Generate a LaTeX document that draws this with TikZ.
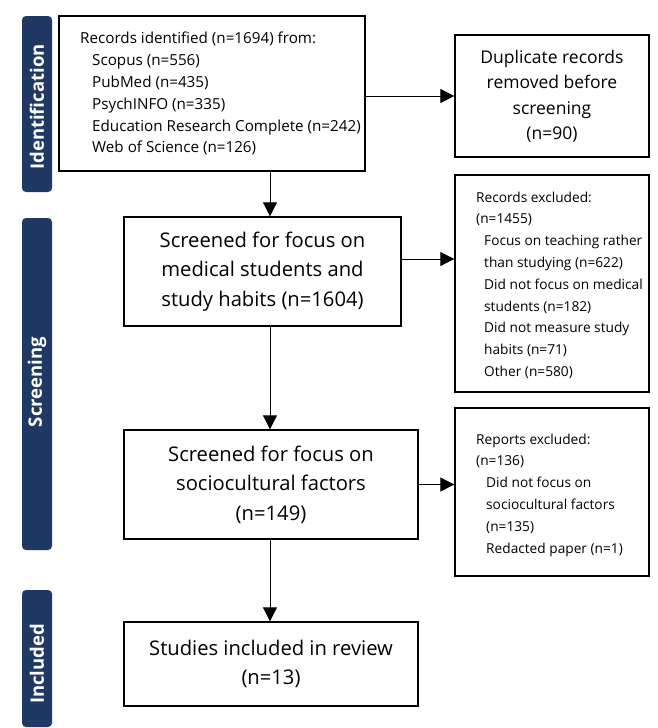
\documentclass[tikz,border=0pt]{standalone}
\usepackage{fontspec}
\setmainfont{Open Sans}
\usetikzlibrary{arrows.meta,calc}
\definecolor{navy}{HTML}{203864}
\tikzset{
  bar/.style={fill=navy,draw=none,rounded corners=4pt},
  barlabel/.style={text=white,font=\fontsize{18.5}{22}\selectfont\bfseries,rotate=90},
  box/.style={draw=black,line width=1.4pt,inner sep=0pt,align=center},
  bigtext/.style={font=\fontsize{20.2}{29.5}\selectfont},
  midtext/.style={font=\fontsize{17.5}{25.5}\selectfont},
  smalltext/.style={font=\fontsize{15.2}{21.8}\selectfont,align=left,inner sep=0pt,anchor=north west},
  exctext/.style={smalltext,font=\fontsize{13.7}{21.8}\selectfont},
  arr/.style={line width=1pt,-{Triangle[length=14pt,width=14pt]}}
}
\begin{document}
\begin{tikzpicture}[x=1pt,y=-1pt]
\useasboundingbox (0,0) rectangle (657,728);
% phase bars
\draw[bar] (22,16) rectangle (52,192);
\node[barlabel] (lid) at (37,107) {Identification};
\draw[bar] (22,218) rectangle (52,550);
\node[barlabel] (lsc) at (37,382) {Screening};
\draw[bar] (22,590) rectangle (52,727);
\node[barlabel] (lin) at (37,664) {Included};
% boxes
\node[box,minimum width=306pt,minimum height=155pt] (rec) at (212,93.5) {};
\node[smalltext] (rect) at (80,32) {Records identified (n=1694) from:\\
\hspace*{12pt}Scopus (n=556)\\
\hspace*{12pt}PubMed (n=435)\\
\hspace*{12pt}PsychINFO (n=335)\\
\hspace*{12pt}Education Research Complete (n=242)\\
\hspace*{12pt}Web of Science (n=126)};
\node[box,midtext,minimum width=194pt,minimum height=122pt] (dup) at (552,96) {Duplicate records\\removed before\\screening\\(n=90)};
\node[box,bigtext,minimum width=277pt,minimum height=109pt] (s1) at (262.5,271.5) {Screened for focus on\\medical students and\\study habits (n=1604)};
\node[box,minimum width=194pt,minimum height=217pt] (rex) at (552,283.5) {};
\node[exctext] (rext) at (476,191.5) {Records excluded:\\
(n=1455)\\
\hspace*{8pt}Focus on teaching rather\\
\hspace*{8pt}than studying (n=622)\\
\hspace*{8pt}Did not focus on medical\\
\hspace*{8pt}students (n=182)\\
\hspace*{8pt}Did not measure study\\
\hspace*{8pt}habits (n=71)\\
\hspace*{8pt}Other (n=580)};
\node[box,bigtext,minimum width=294pt,minimum height=109pt] (s2) at (271,484.5) {Screened for focus on\\sociocultural factors\\(n=149)};
\node[box,minimum width=194pt,minimum height=168pt] (rep) at (552,492) {};
\node[exctext] (rept) at (476,433.5) {Reports excluded:\\
(n=136)\\
\hspace*{10pt}Did not focus on\\
\hspace*{10pt}sociocultural factors\\
\hspace*{10pt}(n=135)\\
\hspace*{10pt}Redacted paper (n=1)};
\node[box,bigtext,minimum width=294pt,minimum height=84pt] (inc) at (271,664) {Studies included in review\\(n=13)};
% spine and arrow start points
\coordinate (spine) at (270,0);
\coordinate (s1out) at ($(s1.east)+(0,-12.5)$);
\draw[arr] (rec.south -| spine) -- (s1.north -| spine);
\draw[arr] (s1.south -| spine) -- (s2.north -| spine);
\draw[arr] (s2.south -| spine) -- (inc.north -| spine);
\draw[arr] (rec.east |- dup.west) -- (dup.west);
\draw[arr] (s1out) -- (s1out -| rex.west);
\draw[arr] (s2.east) -- (s2.east -| rep.west);
\end{tikzpicture}
\end{document}
